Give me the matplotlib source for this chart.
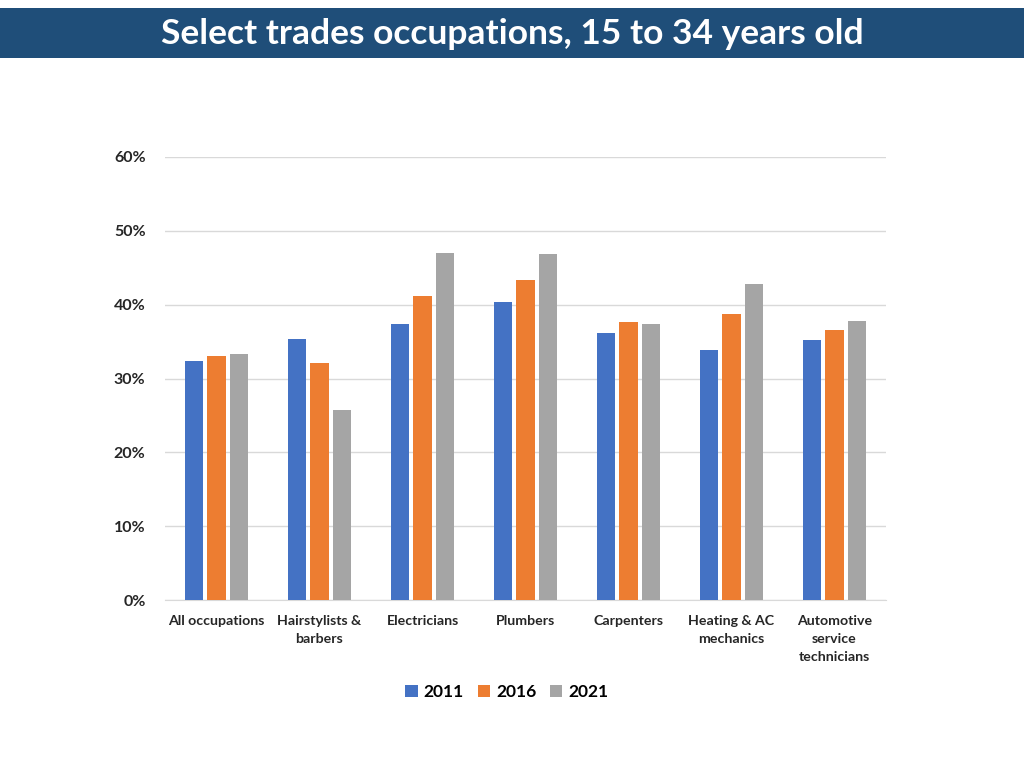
import matplotlib
matplotlib.use("Agg")
from matplotlib import pyplot as plt
from matplotlib.patches import Rectangle
import numpy as np

plt.rcParams['font.family'] = ['Lato', 'DejaVu Sans']

categories = ["All occupations", "Hairstylists &\nbarbers", "Electricians", "Plumbers",
              "Carpenters", "Heating & AC\nmechanics", "Automotive\nservice\ntechnicians"]
years = ["2011", "2016", "2021"]
v2011 = [32.4, 35.3, 37.4, 40.3, 36.1, 33.8, 35.2]
v2016 = [33.1, 32.1, 41.2, 43.4, 37.7, 38.7, 36.6]
v2021 = [33.3, 25.8, 47.0, 46.8, 37.4, 42.8, 37.8]
colors = ["#4472C4", "#ED7D31", "#A5A5A5"]

fig = plt.figure(figsize=(10.24, 7.68), dpi=100)

# title banner
fig.patches.append(Rectangle((0, 1 - 58/768), 1, 50/768, transform=fig.transFigure,
                             facecolor="#1F4E79", edgecolor="none", zorder=0))
fig.text(0.5, 1 - 34/768, "Select trades occupations, 15 to 34 years old",
         ha="center", va="center", color="white", fontsize=25.5, fontweight="bold")

ax = fig.add_axes([165/1024, 1 - 600/768, 721/1024, 443/768])
x = np.arange(len(categories))
w = 0.175
step = 0.223
for i, (vals, yr) in enumerate(zip([v2011, v2016, v2021], years)):
    ax.bar(x + (i - 1) * step, np.array(vals) / 100, width=w, color=colors[i],
           label=yr, zorder=3)

ax.set_xlim(-0.5, len(categories) - 0.5)
ax.set_ylim(0, 0.6)
ax.set_yticks(np.arange(0, 0.61, 0.1))
ax.set_yticklabels([f"{int(round(t*100))}%" for t in np.arange(0, 0.61, 0.1)],
                   fontsize=11.5, fontweight="bold", color="#262626")
ax.set_xticks(x)
ax.set_xticklabels(categories, fontsize=10.2, fontweight="bold", color="#262626",
                   linespacing=1.58, va="top")
ax.tick_params(axis="both", length=0)
ax.tick_params(axis="y", pad=14)
ax.tick_params(axis="x", pad=11)
ax.grid(axis="y", color="#D9D9D9", linewidth=1, zorder=0)
for s in ["top", "right", "left"]:
    ax.spines[s].set_visible(False)
ax.spines["bottom"].set_color("#D9D9D9")

leg = fig.legend(loc="center", bbox_to_anchor=(507/1024, 1 - 692/768), ncol=3,
                 frameon=False, handlelength=0.7, handleheight=0.7, handletextpad=0.35,
                 columnspacing=0.8, prop={"size": 12.5, "weight": "bold"})

fig.savefig("out.png", dpi=100, facecolor="white")
